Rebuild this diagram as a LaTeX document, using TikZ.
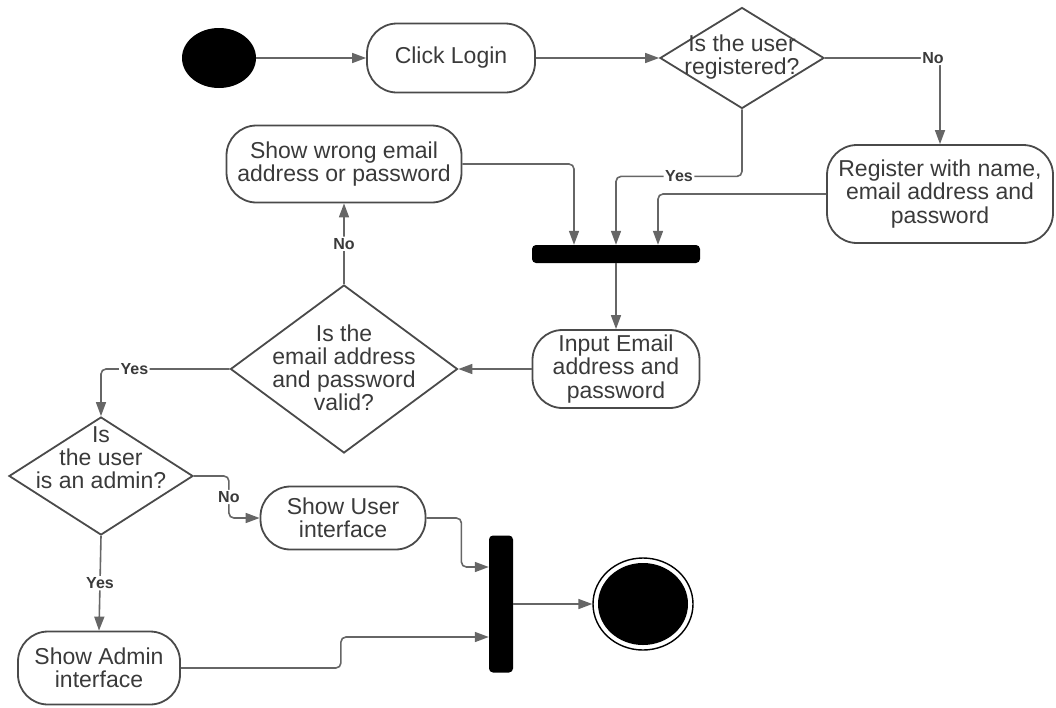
\documentclass[tikz,border=0pt]{standalone}
\usepackage{fontspec}
\setmainfont{Liberation Sans}
\usetikzlibrary{arrows.meta,shapes.geometric}
\definecolor{edgegray}{HTML}{666666}
\definecolor{boxgray}{HTML}{4A4A4A}
\definecolor{txtgray}{HTML}{3A3A3A}

\begin{document}
\begin{tikzpicture}[x=1pt,y=-1pt,
  act/.style={draw=boxgray, line width=1.8pt, rounded corners=30pt, inner sep=0pt,
    align=center, text=txtgray, font=\fontsize{23}{23.5}\selectfont},
  dec/.style={draw=boxgray, line width=1.8pt, diamond, inner sep=0pt},
  qtxt/.style={align=center, text=txtgray, inner sep=0pt, font=\fontsize{23}{23}\selectfont},
  flow/.style={draw=edgegray, line width=1.6pt, rounded corners=5pt,
    -{Triangle[length=14pt,width=10pt]}},
  lbl/.style={fill=white, text=txtgray, inner sep=1.5pt, font=\bfseries\fontsize{16}{18}\selectfont},
  bar/.style={fill=black, rounded corners=4pt, inner sep=0pt}
]
\useasboundingbox (0,0) rectangle (1056,707);

% activities, decisions and bars
\node[fill=black, ellipse, minimum width=74pt, minimum height=60pt, inner sep=0pt] (start) at (219,58) {};
\node[act, minimum width=168pt, minimum height=69pt] (login) at (451,58) {Click Login};
\node[dec, minimum width=164pt, minimum height=101pt] (reg) at (742,58) {};
\node[qtxt] (regq) at (742,57) {Is the user\\registered?};
\node[act, minimum width=226pt, minimum height=98pt] (register) at (940,194) {Register with name,\\email address and\\password};
\node[act, minimum width=235pt, minimum height=77pt] (wrong) at (344,164) {Show wrong email\\address or password};
\node[bar, minimum width=168pt, minimum height=18pt] (join) at (616,254) {};
\node[act, minimum width=167pt, minimum height=78pt] (input) at (616,369) {Input Email\\address and\\password};
\node[dec, minimum width=227pt, minimum height=168pt] (valid) at (344,369) {};
\node[qtxt] (validq) at (344,368) {Is the\\email address\\and password\\valid?};
\node[dec, minimum width=184pt, minimum height=118pt] (admin) at (101,476) {};
\node[qtxt] (adminq) at (101,458) {Is\\the user\\is an admin?};
\node[act, minimum width=165pt, minimum height=63pt] (user) at (343,518) {Show User\\interface};
\node[act, minimum width=162pt, minimum height=73pt] (adminui) at (99,668) {Show Admin\\interface};
\node[bar, minimum width=24pt, minimum height=137pt] (merge) at (501,604) {};
\node[ellipse, draw=black, line width=1.4pt, minimum width=100pt, minimum height=92pt, inner sep=0pt] (end) at (643,604) {};
\node[ellipse, fill=black, minimum width=90pt, minimum height=82pt, inner sep=0pt] (endin) at (end) {};

% control flow
\draw[flow] (start) -- (login);
\draw[flow] (login) -- (reg);
\draw[flow] (reg.east) -| node[lbl, pos=0.47]{No} (register.north);
\draw[flow] (reg.south) -- ++(0,67) -| node[lbl, pos=0.25]{Yes} (join.north);
\draw[flow] (register.west) -| ([xshift=42pt]join.north);
\draw[flow] (wrong.east) -| ([xshift=-42pt]join.north);
\draw[flow] (join) -- (input);
\draw[flow] (input) -- (valid);
\draw[flow] (valid.north) -- node[lbl]{No} (wrong.south);
\draw[flow] (valid.west) -| node[lbl, pos=0.37]{Yes} (admin.north);
\draw[flow] (admin.east) -- ++(35,0) |- node[lbl, pos=0.25]{No} (user.west);
\draw[flow] (admin.south) -- node[lbl]{Yes} (adminui.north);
\draw[flow] (user.east) -- ++(35,0) |- ([yshift=37pt]merge.west);
\draw[flow] (adminui.east) -- ++(160,0) |- ([yshift=-33pt]merge.west);
\draw[flow] (merge) -- (end);
\end{tikzpicture}
\end{document}
